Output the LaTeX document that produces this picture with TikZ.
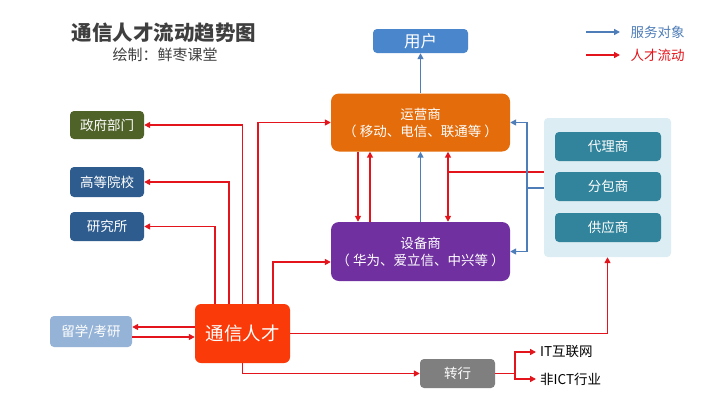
\documentclass[tikz,border=0pt]{standalone}
\usepackage{fontspec}
\setmainfont{Noto Sans CJK SC}
\usetikzlibrary{arrows.meta}
\definecolor{flowred}{HTML}{E3141B}
\definecolor{servblue}{HTML}{4F7DB8}
\definecolor{userblue}{HTML}{4A86CC}
\definecolor{opcolor}{HTML}{E46C0A}
\definecolor{eqcolor}{HTML}{7030A0}
\definecolor{govcolor}{HTML}{4F6228}
\definecolor{educolor}{HTML}{2E5C8E}
\definecolor{studycolor}{HTML}{95B3D7}
\definecolor{talentcolor}{HTML}{FA3A08}
\definecolor{supcolor}{HTML}{31849B}
\definecolor{panelcolor}{HTML}{DCEDF3}
\definecolor{graycolor}{HTML}{7F7F7F}
\definecolor{titlegray}{HTML}{3F3F3F}

\begin{document}
\begin{tikzpicture}[x=1pt, y=-1pt,
	box/.style={rounded corners=4pt, text=white, align=center, inner sep=0pt, font=\fontsize{13.5}{16}\selectfont},
	bigbox/.style={box, rounded corners=8pt, font=\fontsize{13.5}{17}\selectfont},
	flow/.style={draw=flowred, line width=1.6pt, -{Triangle[length=6pt,width=6pt]}},
	serve/.style={draw=servblue, line width=1.6pt, -{Triangle[length=6pt,width=6pt]}}]
		\useasboundingbox (0,0) rectangle (720,405);
		\fill[white] (0,0) rectangle (720,405);
		\node[text=titlegray, font=\fontsize{20.5}{24}\selectfont\bfseries] (title) at (164,33) {通信人才流动趋势图};
		\node[text=titlegray, font=\fontsize{15}{17}\selectfont] (sub) at (165,55) {绘制：鲜枣课堂};
		\coordinate (lga) at (586,32);
		\coordinate (lgb) at (620,32);
		\coordinate (lgc) at (586,55);
		\coordinate (lgd) at (620,55);
		\draw[serve] (lga) -- (lgb);
		\draw[flow] (lgc) -- (lgd);
		\node[anchor=west, text=servblue, font=\fontsize{13.5}{16}\selectfont] (lgserve) at (627,32) {服务对象};
		\node[anchor=west, text=flowred, font=\fontsize{13.5}{16}\selectfont] (lgflow) at (627,55) {人才流动};
		\node[box, fill=userblue, minimum width=95pt, minimum height=24pt, font=\fontsize{16.5}{18}\selectfont] (yonghu) at (420.5,41) {用户};
		\node[bigbox, fill=opcolor, minimum width=179pt, minimum height=58pt] (yunying) at (420.5,122.5) {运营商\\（ 移动、电信、联通等 ）};
		\node[bigbox, fill=eqcolor, minimum width=179pt, minimum height=59pt] (shebei) at (420.5,251.5) {设备商\\（ 华为、爱立信、中兴等 ）};
		\node[fill=panelcolor, rounded corners=4pt, minimum width=127pt, minimum height=139pt, inner sep=0pt] (panel) at (607.5,187.5) {};
		\node[box, fill=supcolor, minimum width=106pt, minimum height=29pt] (daili) at (608,146.5) {代理商};
		\node[box, fill=supcolor, minimum width=106pt, minimum height=29pt] (fenbao) at (608,186.5) {分包商};
		\node[box, fill=supcolor, minimum width=106pt, minimum height=29pt] (gongying) at (608,227.5) {供应商};
		\node[box, fill=govcolor, minimum width=74pt, minimum height=28pt] (zhengfu) at (107,125) {政府部门};
		\node[box, fill=educolor, minimum width=74pt, minimum height=30pt] (gaoxiao) at (107,182) {高等院校};
		\node[box, fill=educolor, minimum width=74pt, minimum height=29pt] (yanjiu) at (107,226.5) {研究所};
		\node[box, fill=studycolor, minimum width=82pt, minimum height=31pt] (liuxue) at (91,331.5) {留学/考研};
		\node[box, rounded corners=6pt, fill=talentcolor, minimum width=95pt, minimum height=59pt, font=\fontsize{18.5}{20}\selectfont] (rencai) at (242.5,333.5) {通信人才};
		\node[box, fill=graycolor, minimum width=75pt, minimum height=29pt] (zhuanhang) at (457.5,373.5) {转行};
		\node[anchor=west, inner sep=0pt, font=\fontsize{13.5}{16}\selectfont] (hulian) at (540,352) {IT互联网};
		\node[anchor=west, inner sep=0pt, font=\fontsize{13.5}{16}\selectfont] (feiict) at (540,379) {非ICT行业};

		\draw[flow] (rencai.north) |- (zhengfu.east);
		\draw[flow] ([xshift=15.5pt]rencai.north) |- (yunying.west);
		\draw[flow] ([xshift=-13.5pt]rencai.north) |- (gaoxiao.east);
		\draw[flow] ([xshift=-27.5pt]rencai.north) |- (yanjiu.east);
		\draw[flow] ([xshift=30.5pt]rencai.north) |- ([yshift=-10.5pt]shebei.west);
		\draw[flow] ([yshift=6.5pt]rencai.west) -- ([yshift=6.5pt]rencai.west -| liuxue.east);
		\draw[flow] ([yshift=-3.5pt]rencai.west -| liuxue.east) -- ([yshift=-3.5pt]rencai.west);
		\draw[flow] (rencai.east) -| (panel.south);
		\draw[flow] (rencai.south) |- (zhuanhang.west);
		\coordinate (fork) at (515,373.5);
		\draw[flow, -] (zhuanhang.east) -- (fork);
		\draw[flow] (fork) |- ([xshift=-4pt]hulian.west);
		\draw[flow] (fork) |- ([xshift=-4pt]feiict.west);

		\draw[flow] ([xshift=-62.5pt]yunying.south) -- ([xshift=-62.5pt]shebei.north);
		\draw[flow] ([xshift=-50.5pt]shebei.north) -- ([xshift=-50.5pt]yunying.south);
		\draw[serve] (shebei.north) -- (yunying.south);
		\draw[serve] (yunying.north) -- (yonghu.south);
		\coordinate (rx) at ([xshift=27.5pt]yunying.south);
		\coordinate (pr) at ([yshift=15.5pt]panel.west);
		\draw[flow, {Triangle[length=6pt,width=6pt]}-{Triangle[length=6pt,width=6pt]}] (rx) -- (rx |- shebei.north);
		\draw[flow, -] (pr) -- (pr -| rx);
		\coordinate (pb) at ([yshift=-0.5pt]panel.west);
		\coordinate (bj) at ([xshift=-17pt]pb);
		\draw[serve, -] (pb) -- (bj);
		\draw[serve] (bj) |- (yunying.east);
		\draw[serve] (bj) |- (shebei.east);
		\end{tikzpicture}
\end{document}
